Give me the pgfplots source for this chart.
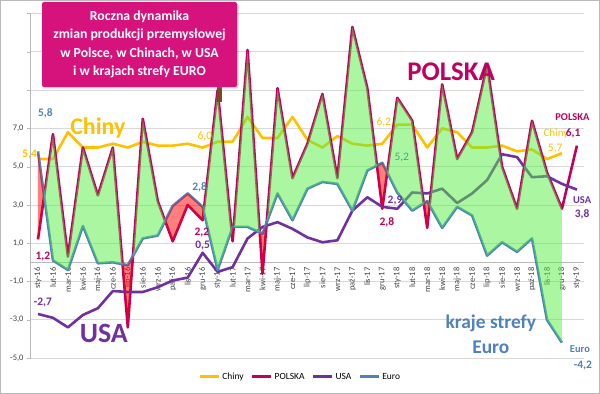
\documentclass[border=0pt]{standalone}
\usepackage{fontspec}
\setmainfont{Carlito}
\usepackage{pgfplots}
\pgfplotsset{compat=1.18}
\usepackage{pgfplotstable}
\usepgfplotslibrary{fillbetween}
\usetikzlibrary{shadows}

\definecolor{chiny}{HTML}{FFC000}
\definecolor{pl}{HTML}{C0005E}
\definecolor{usa}{HTML}{7030A0}
\definecolor{euro}{HTML}{4F81BD}
\definecolor{fillg}{HTML}{55EE44}
\definecolor{titlebg}{HTML}{D6137C}
\definecolor{gridc}{HTML}{D9D9D9}
\definecolor{teal5}{HTML}{4BA58A}

\pgfplotstableread{
i chiny polska usa euro
0 5.4 1.2 -2.7 5.8
1 5.4 6.7 -2.9 0.1
2 6.8 0.3 -3.4 -0.4
3 6.0 6.0 -2.75 1.9
4 6.0 3.5 -2.4 -0.05
5 6.2 6.0 -1.5 0.0
6 6.0 -3.4 -1.55 -0.15
7 6.3 7.5 -1.55 1.25
8 6.1 3.2 -1.3 1.4
9 6.1 1.1 -0.95 2.95
10 6.2 3.0 -0.8 3.6
11 6.0 2.2 0.5 2.9
12 6.3 9.0 -0.5 -0.4
13 6.3 1.1 -0.25 1.85
14 7.6 11.1 1.25 1.85
15 6.5 -0.6 1.85 1.5
16 6.5 9.1 2.1 3.6
17 7.6 4.4 1.75 2.2
18 6.4 6.2 1.3 3.85
19 6.0 8.8 1.05 4.2
20 6.6 4.4 1.15 4.1
21 6.2 12.3 2.7 2.7
22 6.1 9.1 3.4 4.8
23 6.2 2.8 2.9 5.2
24 7.2 8.6 2.8 3.65
25 7.2 7.4 3.65 2.7
26 6.0 1.8 3.6 3.2
27 7.0 9.3 3.85 1.8
28 6.8 5.4 3.1 2.9
29 6.0 6.8 3.6 2.45
30 6.0 10.3 4.3 0.35
31 6.1 5.0 5.65 1.05
32 5.8 2.8 5.5 0.55
33 5.9 7.4 4.45 1.25
34 5.4 4.7 4.5 -3.0
35 5.7 2.8 4.1 -4.2
36 nan 6.1 3.8 nan
}\data

\begin{document}
\begin{tikzpicture}
\begin{axis}[
 at={(30.5bp,36bp)}, anchor=south west,
 scale only axis, width=553.9bp, height=344.4bp,
 xmin=-0.5, xmax=36.5, ymin=-5, ymax=13,
 axis x line=middle, axis y line=left,
 axis line style={-, draw=gray!55, line width=0.7bp},
 set layers,
 clip=false,
 xtick={0,...,36},
 xticklabels={sty-16,lut-16,mar-16,kwi-16,maj-16,cze-16,lip-16,sie-16,wrz-16,paź-16,lis-16,gru-16,sty-17,lut-17,mar-17,kwi-17,maj-17,cze-17,lip-17,sie-17,wrz-17,paź-17,lis-17,gru-17,sty-18,lut-18,mar-18,kwi-18,maj-18,cze-18,lip-18,sie-18,wrz-18,paź-18,lis-18,gru-18,sty-19},
 xticklabel style={rotate=90, anchor=east, font=\fontsize{8.5}{10}\selectfont, text=black!75, inner sep=1.5bp},
 xtick style={draw=none},
 minor xtick={-0.5,0.5,...,36.5},
 minor tick length=3.5bp,
 ytick={-5,-3,...,13},
 yticklabels={{-5,0},{-3,0},{-1,0},{1,0},{3,0},{5,0},{7,0},{},{},{}},
 yticklabel style={font=\fontsize{8.5}{10}\selectfont, text=black!75},
 ytick style={draw=gray!55},
 tick align=outside,
 major tick length=3.5bp,
 ymajorgrids, grid style={gridc, line width=0.8bp},
 /pgf/number format/assume math mode=true,
 legend style={at={(0.487,-0.055)}, anchor=center, draw=none, fill=none, legend columns=4,
   font=\fontsize{9.5}{11}\selectfont, /tikz/every even column/.append style={column sep=5bp}},
 legend image code/.code={\draw[#1, line width=3bp] (0bp,0bp) -- (19bp,0bp);},
 every axis plot/.append style={line join=round},
]
\addplot[chiny, line width=2.6bp] table[x=i,y=chiny]{\data}; \addlegendentry{Chiny}
\addplot[pl, line width=2.6bp] table[x=i,y=polska]{\data}; \addlegendentry{POLSKA}
\addplot[usa, line width=2.6bp] table[x=i,y=usa]{\data}; \addlegendentry{USA}
\addplot[euro, line width=2.6bp] table[x=i,y=euro]{\data}; \addlegendentry{Euro}

\addplot[draw=none, forget plot, name path=P, restrict x to domain=0:35] table[x=i,y=polska]{\data};
\addplot[draw=none, forget plot, name path=E] table[x=i,y=euro]{\data};
\addplot[fillg, fill opacity=0.5, forget plot] fill between[of=P and E, split, on layer=main,
   every even segment/.style={red}, every odd segment/.style={fillg}];

% annotations
\node[text=chiny, font=\bfseries\fontsize{24}{26}\selectfont] at (axis cs:4.0,7.0) {Chiny};
\node[text=pl, font=\bfseries\fontsize{27}{29}\selectfont] at (axis cs:27.6,9.95) {POLSKA};
\node[text=usa, font=\bfseries\fontsize{28}{30}\selectfont] at (axis cs:4.4,-3.7) {USA};
\node[text=euro, font=\bfseries\fontsize{19.5}{25}\selectfont, align=center] at (axis cs:30.25,-3.75) {kraje strefy\\Euro};

\tikzset{lab/.style={font=\bfseries\fontsize{11.5}{12}\selectfont, inner sep=0.5bp}}
\node[lab, text=euro] at (axis cs:0.5,7.8) {5,8};
\node[lab, text=chiny] at (axis cs:-0.55,5.62) {5,4};
\node[lab, text=pl] at (axis cs:0.33,0.33) {1,2};
\node[lab, text=usa] at (axis cs:0.33,-2.1) {-2,7};
\node[lab, text=chiny, font=\fontsize{11.5}{12}\selectfont] at (axis cs:11.15,6.6) {6,0};
\node[lab, text=euro] at (axis cs:10.8,3.9) {2,8};
\node[lab, text=pl] at (axis cs:10.95,1.58) {2,2};
\node[lab, text=usa] at (axis cs:11.0,0.9) {0,5};
\node[lab, text=chiny, font=\fontsize{11.5}{12}\selectfont] at (axis cs:23.1,7.3) {6,2};
\node[lab, text=teal5, font=\fontsize{11.5}{12}\selectfont] at (axis cs:24.3,5.5) {5,2};
\node[lab, text=usa] at (axis cs:23.85,3.25) {2,9};
\node[lab, text=pl] at (axis cs:23.3,2.1) {2,8};
\node[lab, text=pl, font=\bfseries\fontsize{10.5}{12}\selectfont] at (axis cs:35.7,7.6) {POLSKA};
\node[lab, text=chiny, font=\fontsize{11}{12}\selectfont] at (axis cs:34.6,6.75) {Chiny};
\node[lab, text=pl] at (axis cs:35.75,6.75) {6,1};
\node[lab, text=chiny, font=\fontsize{11.5}{12}\selectfont] at (axis cs:34.55,5.97) {5,7};
\node[lab, text=usa, font=\bfseries\fontsize{10.5}{12}\selectfont] at (axis cs:36.35,3.25) {USA};
\node[lab, text=usa] at (axis cs:36.35,2.5) {3,8};
\node[lab, text=euro, font=\bfseries\fontsize{10.5}{12}\selectfont] at (axis cs:36.2,-4.55) {Euro};
\node[lab, text=euro] at (axis cs:36.4,-5.4) {-4,2};
\end{axis}
% title sign
\fill[brown!60!black] (217bp,292bp) rectangle (222bp,307bp);
\node[fill=titlebg, rounded corners=2bp, drop shadow={opacity=0.35, shadow xshift=1.5bp, shadow yshift=-1.5bp},
  text=white, font=\bfseries\fontsize{13.8}{18.6}\selectfont, align=center,
  minimum width=195bp, minimum height=85bp, inner sep=2bp] at (139.5bp,349.5bp)
  {Roczna dynamika\\zmian produkcji przemysłowej\\w Polsce, w Chinach, w USA\\i w krajach strefy EURO};
\draw[gray!55, line width=0.8bp] (0.4bp,0.4bp) rectangle (599.6bp,393.6bp);
\pgfresetboundingbox
\path[use as bounding box] (0,0) rectangle (600bp,394bp);
\end{tikzpicture}
\end{document}
